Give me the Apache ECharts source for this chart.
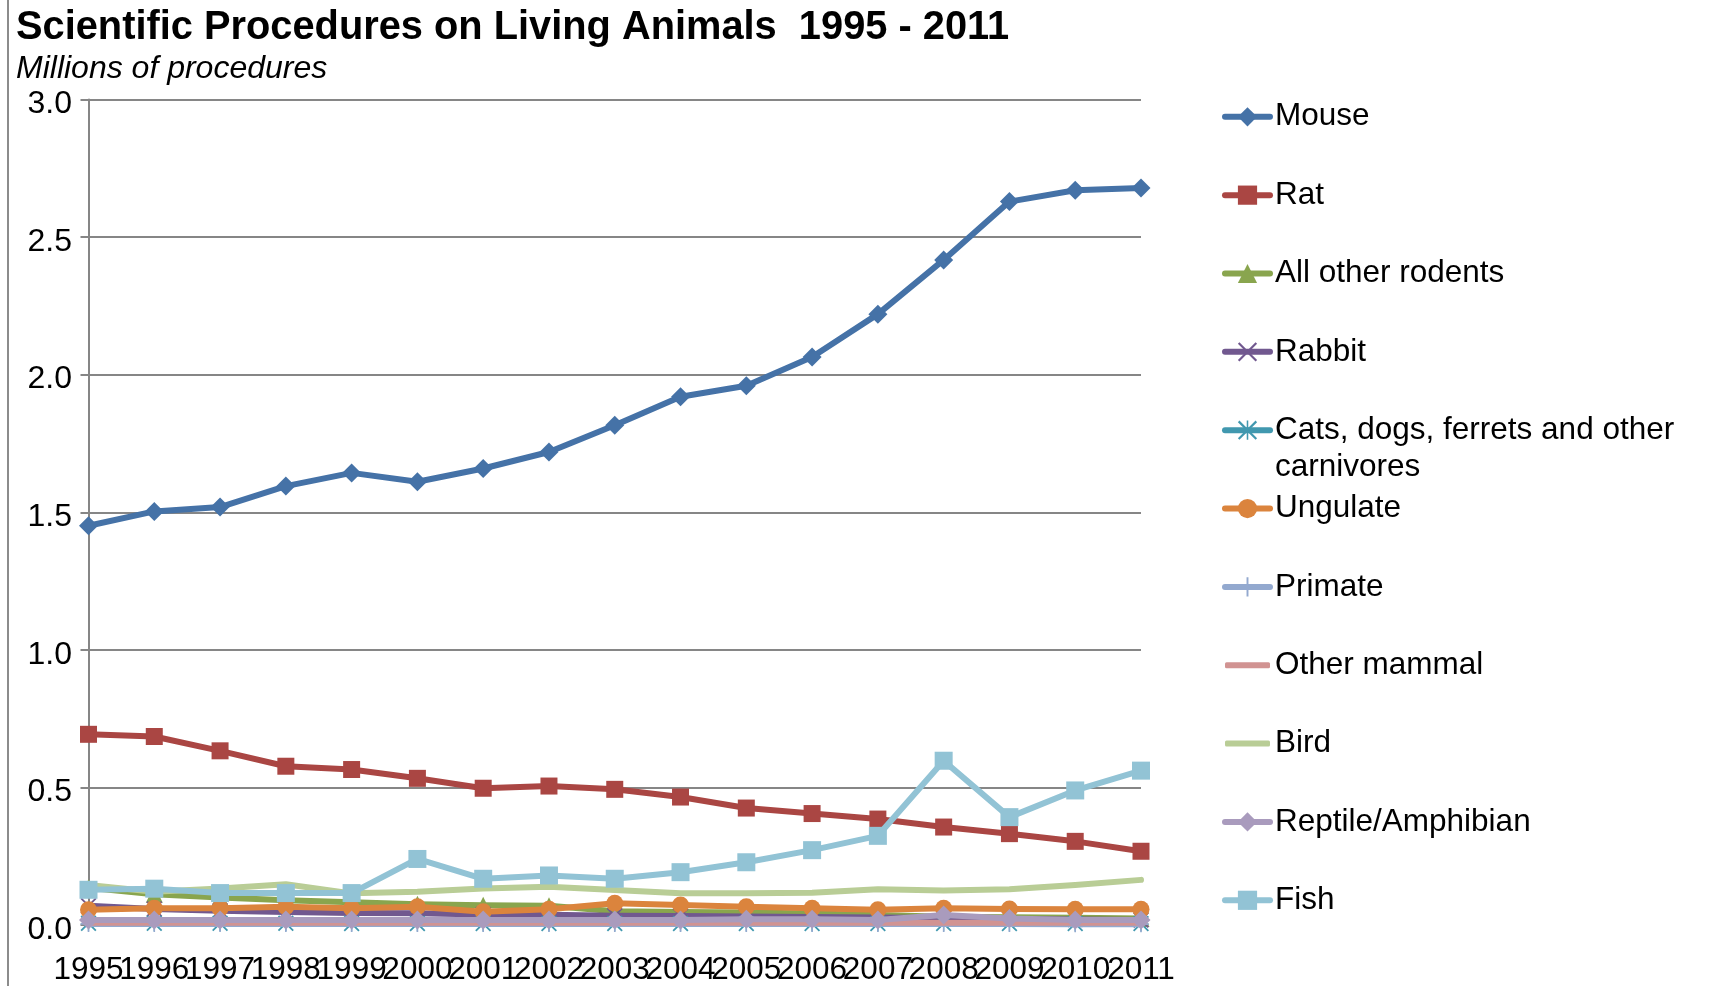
<!DOCTYPE html>
<html>
<head>
<meta charset="utf-8">
<title>Scientific Procedures on Living Animals 1995 - 2011</title>
<script src="https://cdn.jsdelivr.net/npm/echarts@6/dist/echarts.min.js"></script>
<style>
  html, body { margin: 0; padding: 0; background: #ffffff; }
  #chart { width: 1728px; height: 986px; }
</style>
</head>
<body>
<div id="chart"></div>
<script>
// Years on the category axis
const years = ['1995', '1996', '1997', '1998', '1999', '2000', '2001', '2002', '2003',
               '2004', '2005', '2006', '2007', '2008', '2009', '2010', '2011'];

// Value axis range (millions of procedures)
const yMin = 0;
const yMax = 3;
const yStep = 0.5;

// Procedures per species group, millions
const mouse        = [1.451, 1.503, 1.519, 1.595, 1.643, 1.611, 1.659, 1.719, 1.816, 1.920, 1.960, 2.064, 2.220, 2.417, 2.629, 2.670, 2.678];
const rat          = [0.693, 0.685, 0.633, 0.577, 0.565, 0.533, 0.497, 0.505, 0.493, 0.465, 0.425, 0.405, 0.385, 0.356, 0.332, 0.304, 0.268];
const otherRodents = [0.135, 0.112, 0.100, 0.090, 0.083, 0.075, 0.072, 0.070, 0.050, 0.047, 0.045, 0.042, 0.036, 0.030, 0.028, 0.026, 0.024];
const rabbit       = [0.070, 0.058, 0.052, 0.047, 0.044, 0.043, 0.038, 0.037, 0.034, 0.033, 0.031, 0.029, 0.027, 0.025, 0.022, 0.020, 0.018];
const carnivores   = [0.006, 0.006, 0.006, 0.006, 0.005, 0.005, 0.005, 0.005, 0.005, 0.005, 0.005, 0.005, 0.005, 0.005, 0.005, 0.005, 0.005];
const ungulate     = [0.055, 0.061, 0.061, 0.066, 0.061, 0.066, 0.048, 0.057, 0.079, 0.073, 0.066, 0.061, 0.055, 0.061, 0.058, 0.057, 0.057];
const primate      = [0.004, 0.004, 0.004, 0.004, 0.004, 0.004, 0.004, 0.004, 0.004, 0.004, 0.004, 0.004, 0.004, 0.004, 0.004, 0.003, 0.003];
const otherMammal  = [0.008, 0.008, 0.008, 0.008, 0.008, 0.008, 0.008, 0.008, 0.008, 0.008, 0.008, 0.008, 0.008, 0.008, 0.008, 0.008, 0.008];
const bird         = [0.145, 0.121, 0.133, 0.148, 0.115, 0.121, 0.133, 0.139, 0.127, 0.115, 0.115, 0.117, 0.130, 0.125, 0.130, 0.145, 0.164];
const reptile      = [0.018, 0.018, 0.018, 0.018, 0.018, 0.018, 0.018, 0.018, 0.018, 0.018, 0.021, 0.021, 0.018, 0.036, 0.024, 0.018, 0.018];
const fish         = [0.128, 0.132, 0.116, 0.116, 0.116, 0.240, 0.168, 0.180, 0.168, 0.192, 0.228, 0.272, 0.324, 0.597, 0.392, 0.489, 0.561];

// Series names as shown in the legend
const seriesNames = ['Mouse', 'Rat', 'All other rodents', 'Rabbit',
                     'Cats, dogs, ferrets and other carnivores', 'Ungulate', 'Primate',
                     'Other mammal', 'Bird', 'Reptile/Amphibian', 'Fish'];
const seriesValues = [mouse, rat, otherRodents, rabbit, carnivores, ungulate, primate,
                      otherMammal, bird, reptile, fish];

// Styling
const FONT = '"Liberation Sans", Arial, sans-serif';
const colors = ['#4572A7', '#AA4643', '#89A54E', '#71588F', '#4198AF', '#DB843D',
                '#93A9CF', '#D19392', '#B9CD96', '#A99BBD', '#92C3D5'];
const LINE_W = 6;

// Thin-stroke marker shapes (drawn as filled outlines)
const crossX = 'path://M0,0.8 L0.8,0 L10,9.2 L9.2,10 Z M9.2,0 L10,0.8 L0.8,10 L0,9.2 Z';
const asterisk = 'path://M0,0.8 L0.8,0 L10,9.2 L9.2,10 Z M9.2,0 L10,0.8 L0.8,10 L0,9.2 Z M4.6,0 L5.4,0 L5.4,10 L4.6,10 Z';
const plus = 'path://M4.5,0 L5.5,0 L5.5,10 L4.5,10 Z M0,4.5 L10,4.5 L10,5.5 L0,5.5 Z';
const symbols = ['diamond', 'rect', 'triangle', crossX, asterisk, 'circle', plus,
                 'none', 'none', 'diamond', 'rect'];
const symbolSizes = [19, 17, 17, 16, 16, 17, 16, 0, 0, 19, 18];

const series = seriesNames.map((name, i) => ({
  name: name,
  type: 'line',
  data: seriesValues[i],
  symbol: symbols[i],
  symbolSize: symbolSizes[i],
  showSymbol: symbols[i] !== 'none',
  showAllSymbol: true,
  lineStyle: { color: colors[i], width: LINE_W, cap: 'round', join: 'round' },
  itemStyle: { color: colors[i], borderWidth: 0 },
  emphasis: { disabled: true },
  z: 2 + i
}));

// One legend block per series, stacked down the right-hand side
const legendLeft = 1225;
const legendFirst = 116.8;
const legendStep = 78.35;
const legendLine = 37;
const legends = seriesNames.map((name, i) => {
  const centre = legendFirst + i * legendStep;
  const lineOnly = symbols[i] === 'none';
  const wrapped = name.indexOf('carnivores') >= 0;
  const lg = {
    data: [name],
    orient: 'vertical',
    left: lineOnly ? legendLeft : legendLeft - LINE_W / 2,
    top: wrapped ? centre - legendLine * 1.5 : centre - legendLine / 2,
    padding: 0,
    itemWidth: 45,
    itemHeight: lineOnly ? LINE_W : 24,
    selectedMode: false,
    lineStyle: { width: LINE_W },
    itemStyle: { borderWidth: 0 },
    textStyle: {
      fontFamily: FONT, fontSize: 31.5, color: '#000000', lineHeight: legendLine
    }
  };
  if (lineOnly) {
    lg.icon = 'roundRect';
  }
  if (wrapped) {
    // empty first line keeps the marker level with the first printed line
    lg.formatter = () => '\nCats, dogs, ferrets and other\ncarnivores';
  }
  return lg;
});

const chart = echarts.init(document.getElementById('chart'), null, { renderer: 'canvas' });
chart.setOption({
  animation: false,
  backgroundColor: '#ffffff',
  title: {
    text: 'Scientific Procedures on Living Animals  1995 - 2011',
    subtext: 'Millions of procedures',
    left: 16,
    top: 8.5,
    padding: 0,
    itemGap: 5,
    textStyle: { fontFamily: FONT, fontSize: 39.8, fontWeight: 'bold', color: '#000000', lineHeight: 40 },
    subtextStyle: { fontFamily: FONT, fontSize: 32, fontStyle: 'italic', color: '#000000', lineHeight: 32 }
  },
  legend: legends,
  grid: { left: 88.5, right: 587, top: 99.5, bottom: 61, containLabel: false },
  xAxis: {
    type: 'category',
    data: years,
    boundaryGap: false,
    axisLine: { show: true, lineStyle: { color: '#868686', width: 2 } },
    axisTick: { show: false },
    axisLabel: {
      interval: 0, hideOverlap: false, margin: 29,
      fontFamily: FONT, fontSize: 31.5, color: '#000000'
    },
    splitLine: { show: false }
  },
  yAxis: {
    type: 'value',
    min: yMin,
    max: yMax,
    interval: yStep,
    axisLine: { show: true, lineStyle: { color: '#868686', width: 2 } },
    axisTick: { show: true, inside: false, length: 8, lineStyle: { color: '#868686', width: 2 } },
    axisLabel: {
      margin: 16.5, verticalAlign: 'top', lineHeight: 10,
      fontFamily: FONT, fontSize: 32, color: '#000000',
      formatter: v => v.toFixed(1)
    },
    splitLine: { show: true, lineStyle: { color: '#868686', width: 2 } }
  },
  graphic: [{
    type: 'line',
    silent: true,
    shape: { x1: 8, y1: 0, x2: 8, y2: 986 },
    style: { stroke: '#8c8c8c', lineWidth: 2 }
  }],
  series: series
});
</script>
</body>
</html>
